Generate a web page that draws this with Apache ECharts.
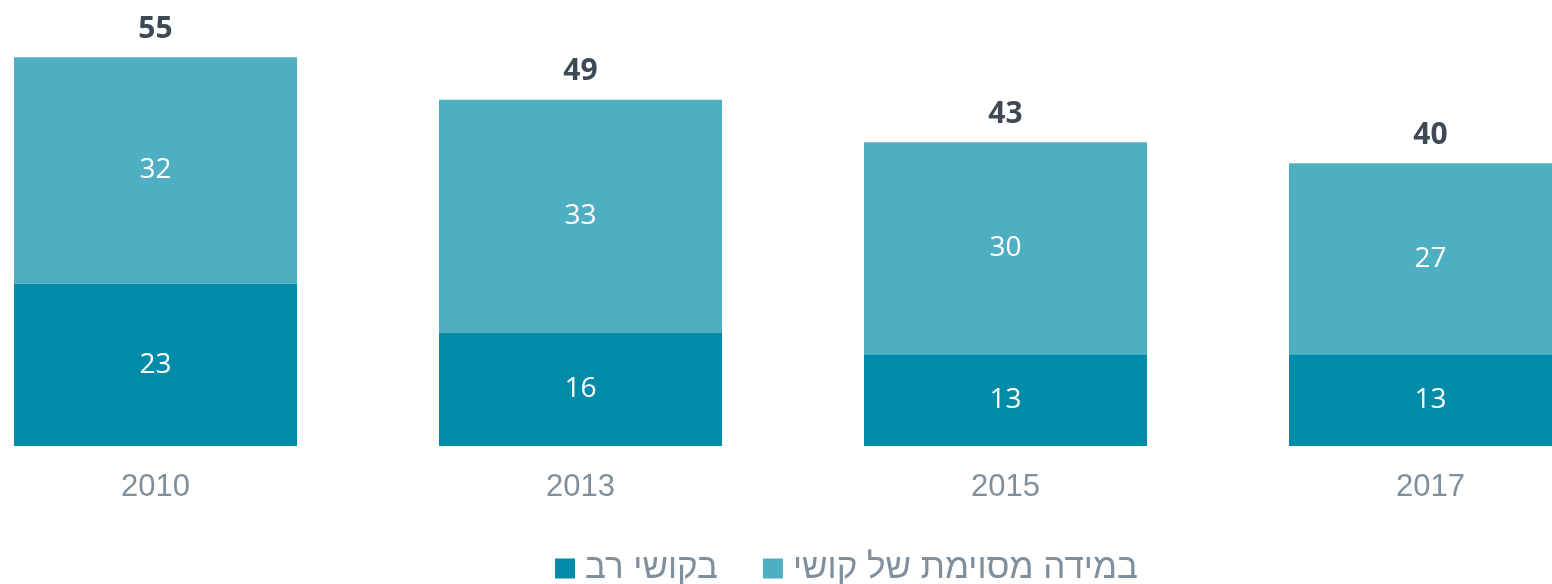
<!DOCTYPE html>
<html>
<head>
<meta charset="utf-8">
<script src="https://cdn.jsdelivr.net/npm/echarts@6/dist/echarts.min.js"></script>
<style>
html, body { margin: 0; padding: 0; background: #fff; }
#chart { width: 1552px; height: 584px; }
</style>
</head>
<body>
<div id="chart"></div>
<script>
// שנים
const years = ['2010', '2013', '2015', '2017'];
// בקושי רב
const heavy = [23, 16, 13, 13];
// במידה מסוימת של קושי
const some = [32, 33, 30, 27];
// סה"כ מעל העמודות
const totals = [55, 49, 43, 40];

const legendNames = ['בקושי רב', 'במידה מסוימת של קושי'];

let myChart = echarts.init(document.getElementById('chart'));
myChart.setOption({
    animation: false,
    grid: {
        left: 155.5,
        right: 121.5,
        top: 22,
        bottom: 138,
        containLabel: false
    },
    legend: {
        data: legendNames,
        top: 546,
        left: 550,
        itemWidth: 20,
        itemHeight: 20,
        itemGap: 45,
        icon: 'rect',
        textStyle: {
            color: '#7f8f9c',
            fontSize: 35,
            fontFamily: 'Liberation Sans',
            padding: [0, 0, 0, 5]
        }
    },
    xAxis: {
        type: 'category',
        data: years,
        boundaryGap: false,
        axisLine: { show: false },
        axisTick: { show: false },
        axisLabel: {
            color: '#7f8f9c',
            fontSize: 31,
            fontFamily: 'Liberation Sans',
            margin: 26
        }
    },
    yAxis: {
        type: 'value',
        min: 0,
        max: 60,
        show: false
    },
    series: [
        {
            name: legendNames[0],
            type: 'bar',
            stack: 'total',
            barWidth: 283,
            clip: false,
            data: heavy,
            itemStyle: { color: '#008ba8' },
            label: {
                show: true,
                position: 'inside',
                color: '#fff',
                fontSize: 28,
                fontFamily: 'Open Sans'
            }
        },
        {
            name: legendNames[1],
            type: 'bar',
            stack: 'total',
            barWidth: 283,
            clip: false,
            data: some,
            itemStyle: { color: '#4eafc3' },
            label: {
                show: true,
                position: 'inside',
                color: '#fff',
                fontSize: 28,
                fontFamily: 'Open Sans'
            }
        },
        {
            // תווית סה"כ
            name: 'total',
            type: 'bar',
            stack: 'total',
            barWidth: 283,
            clip: false,
            data: totals.map(() => 0),
            itemStyle: { color: 'transparent' },
            label: {
                show: true,
                position: 'top',
                distance: 13,
                color: '#3d4a56',
                fontSize: 30,
                fontWeight: 'bold',
                fontFamily: 'Open Sans',
                formatter: (p) => totals[p.dataIndex]
            }
        }
    ]
});
</script>
</body>
</html>
